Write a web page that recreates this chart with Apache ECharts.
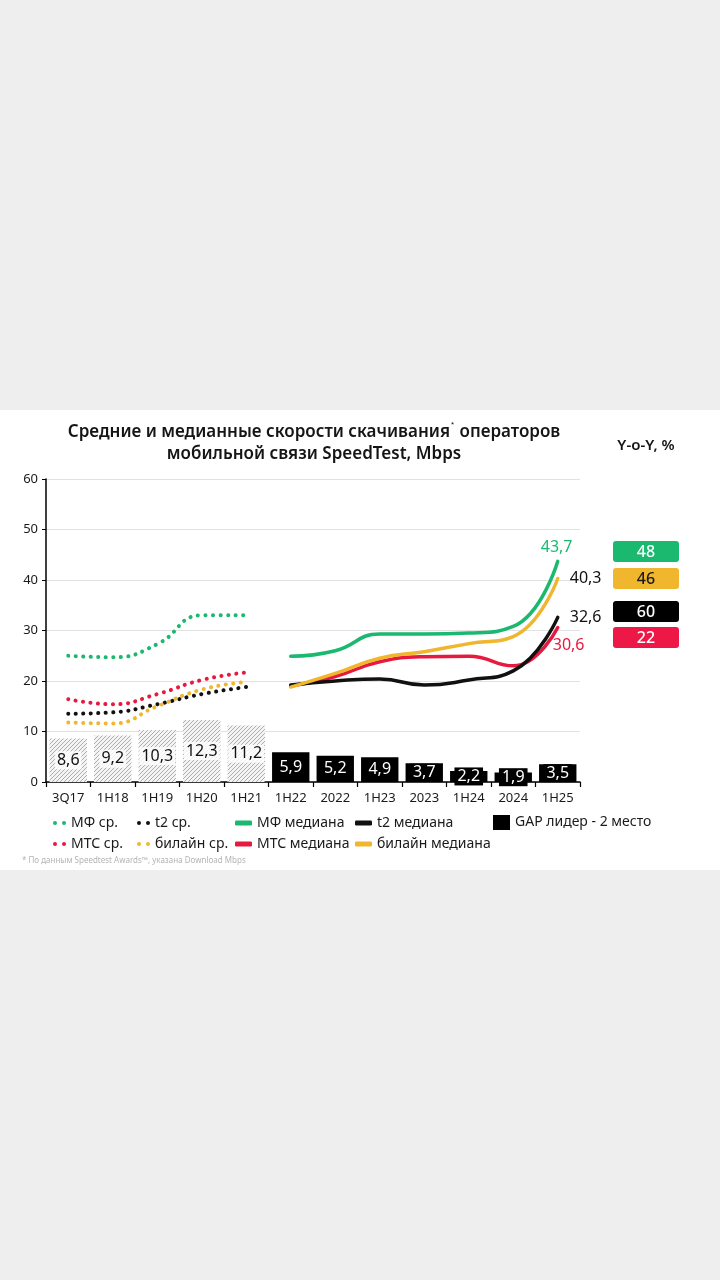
<!DOCTYPE html>
<html>
<head>
<meta charset="utf-8">
<script src="https://cdn.jsdelivr.net/npm/echarts@6/dist/echarts.min.js"></script>
<style>
  html, body { margin: 0; padding: 0; background: #eeeeee; width: 720px; height: 1280px; overflow: hidden; }
  #chart { position: absolute; left: 0; top: 410px; width: 720px; height: 460px; background: #ffffff; }
</style>
</head>
<body>
<div id="chart"></div>
<script>
// --- data ---
const categories = ["3Q17", "1H18", "1H19", "1H20", "1H21", "1H22", "2022", "1H23", "2023", "1H24", "2024", "1H25"];
const gapValues = [8.6, 9.2, 10.3, 12.3, 11.2, 5.9, 5.2, 4.9, 3.7, 2.2, 1.9, 3.5];
const hatchedCount = 5; // first bars drawn hatched

// averages (3Q17 .. 1H21)
const mfAvg = [25.0, 24.7, 27.3, 33.0, 33.0];
const t2Avg = [13.5, 13.8, 15.4, 17.4, 18.8];
const mtsAvg = [16.4, 15.4, 17.4, 20.2, 21.7];
const beelineAvg = [11.8, 11.6, 15.0, 18.3, 19.8];

// medians (1H22 .. 1H25)
const mfMedian = [24.9, 26.0, 29.3, 29.3, 29.5, 30.8, 43.7];
const t2Median = [19.2, 20.0, 20.4, 19.2, 20.2, 22.0, 32.6];
const mtsMedian = [19.0, 20.9, 23.8, 24.8, 24.9, 23.0, 30.6];
const beelineMedian = [18.8, 21.5, 24.5, 25.8, 27.4, 28.8, 40.3];

const yoyValues = ["48", "46", "60", "22"];

const C_GREEN = "#1bb86f";
const C_BLACK = "#111111";
const C_RED = "#e8193f";
const C_YELLOW = "#f0b62e";
const FONT = "Noto Sans";

const fmt = (v) => String(v).replace(".", ",");
const padAvg = (arr) => arr.concat(new Array(categories.length - arr.length).fill("-"));
const padMedian = (arr) => new Array(categories.length - arr.length).fill("-").concat(arr);

// hatch pattern for the early bars
function makeHatch() {
  const c = document.createElement("canvas");
  c.width = 4;
  c.height = 4;
  const ctx = c.getContext("2d");
  ctx.fillStyle = "#f4f4f4";
  ctx.fillRect(0, 0, 4, 4);
  ctx.strokeStyle = "#9a9a9a";
  ctx.lineWidth = 0.8;
  ctx.beginPath();
  ctx.moveTo(0, 4); ctx.lineTo(4, 0);
  ctx.moveTo(-1, 1); ctx.lineTo(1, -1);
  ctx.moveTo(3, 5); ctx.lineTo(5, 3);
  ctx.stroke();
  return c;
}
const hatch = { image: makeHatch(), repeat: "repeat" };

const barData = gapValues.map((v, i) => {
  if (i < hatchedCount) {
    return {
      value: v,
      itemStyle: { color: hatch },
      label: { color: "#111", backgroundColor: "rgba(255,255,255,0.8)", padding: [1, 2] },
    };
  }
  return { value: v };
});

function avgSeries(name, color, data) {
  return {
    type: "line",
    name: name,
    data: padAvg(data),
    smooth: true,
    symbol: "none",
    color: color,
    itemStyle: { color: color },
    lineStyle: { color: color, width: 4, type: [0.1, 7.4], cap: "round" },
    z: 3,
  };
}

function medianSeries(name, color, data, endLabel) {
  return {
    type: "line",
    name: name,
    data: padMedian(data),
    smooth: true,
    symbol: "none",
    color: color,
    itemStyle: { color: color },
    lineStyle: { color: color, width: 3.5, cap: "round" },
    endLabel: Object.assign(
      {
        show: true,
        formatter: (p) => fmt(p.value),
        fontFamily: FONT,
        fontSize: 16,
      },
      endLabel
    ),
    z: 4,
  };
}

const DOTS_ICON = "path://M0,2a2,2 0 1,0 4,0a2,2 0 1,0 -4,0zM9,2a2,2 0 1,0 4,0a2,2 0 1,0 -4,0z";

const legendText = { fontFamily: FONT, fontSize: 14, color: "#1a1a1a", lineHeight: 14 };
function legendCol(left, names, extra) {
  return Object.assign(
    {
      left: left,
      top: 401,
      orient: "vertical",
      itemWidth: 17,
      itemHeight: 14,
      itemGap: 7,
      selectedMode: false,
      textStyle: legendText,
      data: names,
    },
    extra
  );
}

const yoyColors = [C_GREEN, C_YELLOW, "#000000", "#ee1846"];
const yoyTextColors = ["#fff", "#1a1a1a", "#fff", "#fff"];
const yoyTops = [131, 158, 191, 217];
const yoyGraphics = [];
yoyValues.forEach((v, i) => {
  yoyGraphics.push({
    type: "rect",
    left: 613,
    top: yoyTops[i],
    shape: { width: 66, height: 21, r: 3 },
    style: { fill: yoyColors[i] },
  });
  yoyGraphics.push({
    type: "text",
    x: 646,
    y: yoyTops[i] + 11,
    style: {
      text: v,
      fill: yoyTextColors[i],
      font: "500 16px '" + FONT + "'",
      align: "center",
      verticalAlign: "middle",
    },
  });
});

const chart = echarts.init(document.getElementById("chart"));

const option = {
  animation: false,
  backgroundColor: "#ffffff",
  textStyle: { fontFamily: FONT },
  grid: { left: 46, right: 140, top: 69, bottom: 88 },
  xAxis: {
    type: "category",
    data: categories,
    boundaryGap: true,
    axisLine: { lineStyle: { color: "#000", width: 1.5 } },
    axisTick: { show: true, length: 5, lineStyle: { color: "#000", width: 1.2 } },
    axisLabel: { color: "#1a1a1a", fontSize: 13, margin: 10, fontFamily: FONT },
  },
  yAxis: {
    type: "value",
    min: 0,
    max: 60,
    interval: 10,
    axisLine: { show: true, lineStyle: { color: "#000", width: 1.5 } },
    axisTick: { show: true, length: 4, lineStyle: { color: "#000" } },
    axisLabel: { color: "#1a1a1a", fontSize: 13, margin: 8, fontFamily: FONT },
    splitLine: { lineStyle: { color: "#e2e2e2", width: 1 } },
  },
  legend: [
    legendCol(48, ["МФ ср.", "МТС ср."], { icon: DOTS_ICON, itemWidth: 13, itemHeight: 4 }),
    legendCol(132, ["t2 ср.", "билайн ср."], { icon: DOTS_ICON, itemWidth: 13, itemHeight: 4 }),
    legendCol(230, ["МФ медиана", "МТС медиана"], { icon: "roundRect", itemWidth: 17, itemHeight: 5 }),
    legendCol(350, ["t2 медиана", "билайн медиана"], { icon: "roundRect", itemWidth: 17, itemHeight: 5 }),
    legendCol(488, ["GAP лидер - 2 место"], { icon: "rect", itemWidth: 17, itemHeight: 15, top: 400 }),
  ],
  graphic: [
    {
      type: "text",
      x: 314,
      y: 11,
      style: {
        text: "Средние и медианные скорости скачивания{s|*} операторов\nмобильной связи SpeedTest, Mbps",
        fill: "#151515",
        font: "600 17px '" + FONT + "'",
        lineHeight: 22,
        align: "center",
        rich: {
          s: { fontSize: 8, verticalAlign: "top", padding: [0, 1, 9, 1], fill: "#151515" },
        },
      },
    },
    {
      type: "text",
      x: 646,
      y: 36,
      style: {
        text: "Y-o-Y, %",
        fill: "#151515",
        font: "600 15px '" + FONT + "'",
        align: "center",
        verticalAlign: "middle",
      },
    },
    {
      type: "text",
      x: 22,
      y: 451,
      style: {
        text: "* По данным Speedtest Awards™, указана Download Mbps",
        fill: "#b4b4b4",
        font: "8px '" + FONT + "'",
        verticalAlign: "middle",
      },
    },
  ].concat(yoyGraphics),
  series: [
    {
      type: "bar",
      name: "GAP лидер - 2 место",
      data: barData,
      barWidth: "84%",
      color: "#000",
      itemStyle: { color: "#000" },
      label: {
        show: true,
        position: "inside",
        formatter: (p) => fmt(p.value),
        color: "#fff",
        backgroundColor: "#000",
        padding: [1, 3],
        fontFamily: FONT,
        fontSize: 16,
      },
      z: 2,
    },
    avgSeries("МФ ср.", C_GREEN, mfAvg),
    avgSeries("t2 ср.", C_BLACK, t2Avg),
    avgSeries("МТС ср.", C_RED, mtsAvg),
    avgSeries("билайн ср.", C_YELLOW, beelineAvg),
    medianSeries("МТС медиана", C_RED, mtsMedian, { color: C_RED, offset: [-13, 18] }),
    medianSeries("t2 медиана", C_BLACK, t2Median, { color: "#111", offset: [4, 0] }),
    medianSeries("билайн медиана", C_YELLOW, beelineMedian, { color: "#111", offset: [4, 0] }),
    medianSeries("МФ медиана", C_GREEN, mfMedian, { color: C_GREEN, offset: [-25, -14] }),
  ],
};

chart.setOption(option);
</script>
</body>
</html>
